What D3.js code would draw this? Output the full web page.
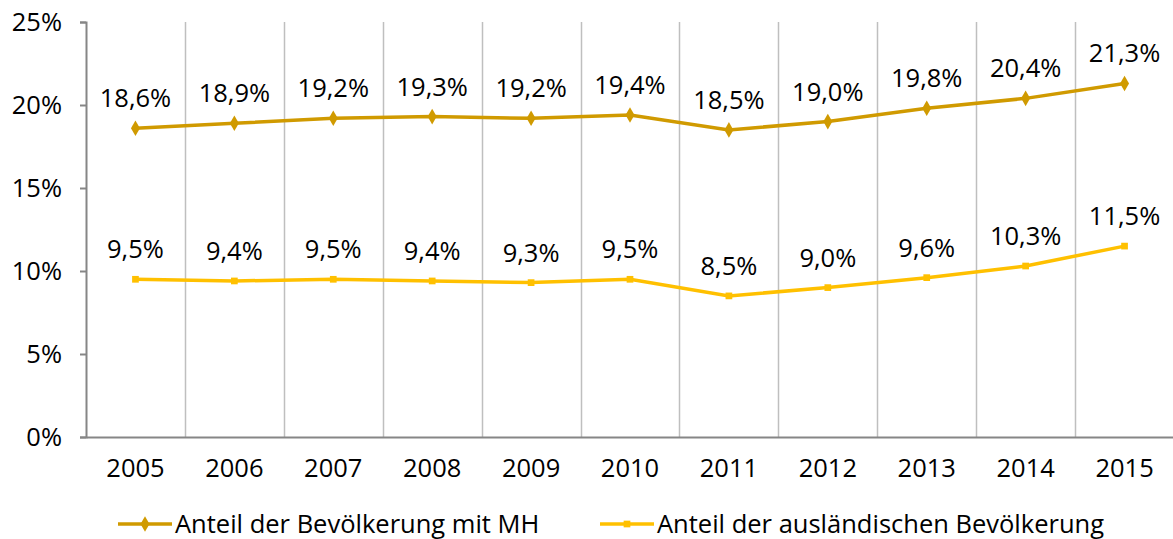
<!DOCTYPE html>
<html><head><meta charset="utf-8">
<script src="https://cdn.jsdelivr.net/npm/d3@7"></script>
<style>body{margin:0;background:#fff}svg{display:block}text{font-family:"Open Sans",sans-serif;fill:#000}</style>
</head><body>
<svg id="c" width="1173" height="539"></svg>
<script>
const years = ["2005","2006","2007","2008","2009","2010","2011","2012","2013","2014","2015"];
const mhValues = [18.6,18.9,19.2,19.3,19.2,19.4,18.5,19.0,19.8,20.4,21.3];
const auslValues = [9.5,9.4,9.5,9.4,9.3,9.5,8.5,9.0,9.6,10.3,11.5];
const yTicks = [0,5,10,15,20,25];
const seriesNames = ["Anteil der Bevölkerung mit MH","Anteil der ausländischen Bevölkerung"];

const svg = d3.select("#c");
const L = 86, R = 1174, T = 22, B = 437;
const FS = "25.5px";
const x = d3.scaleBand().domain(years).range([L, R]);
const y = d3.scaleLinear().domain([0,25]).range([B, T]);
const fmt = v => d3.format(".1f")(v).replace(".", ",") + "%";

// gridlines at category boundaries
const bounds = years.map(d => x(d)).slice(1).concat([R - 0.5]);
svg.append("g").selectAll("line").data(bounds).join("line")
  .attr("x1", d => Math.round(d) + 0.5).attr("x2", d => Math.round(d) + 0.5)
  .attr("y1", T).attr("y2", B).attr("stroke", "#bfbfbf").attr("stroke-width", 1.5);

// y axis
const ya = svg.append("g").attr("transform", `translate(${L},0)`)
  .call(d3.axisLeft(y).tickValues(yTicks).tickFormat(d => d + "%").tickSize(6).tickPadding(18));
ya.select(".domain").attr("stroke", "#868686").attr("stroke-width", 2);
ya.selectAll(".tick line").attr("stroke", "#868686").attr("stroke-width", 2);
ya.selectAll("text").style("font-size", FS).attr("fill", "#000");

// x axis
const xa = svg.append("g").attr("transform", `translate(0,${B})`)
  .call(d3.axisBottom(x).tickSize(0).tickPadding(22));
xa.select(".domain").attr("stroke", "#868686").attr("stroke-width", 2);
xa.selectAll("text").style("font-size", FS).attr("fill", "#000");

const cx = d => x(d) + x.bandwidth() / 2;
const series = [
  {name: seriesNames[0], values: mhValues, color: "#d09a00", marker: "diamond"},
  {name: seriesNames[1], values: auslValues, color: "#ffc000", marker: "square"}
];
const line = d3.line().x((d, i) => cx(years[i])).y(d => y(d));
series.forEach(s => {
  const g = svg.append("g");
  g.append("path").attr("d", line(s.values)).attr("fill", "none")
    .attr("stroke", s.color).attr("stroke-width", 3.5);
  const sym = s.marker === "diamond" ? d3.symbol(d3.symbolDiamond, 70) : d3.symbol(d3.symbolSquare, 45);
  g.selectAll("path.m").data(s.values).join("path").attr("class", "m")
    .attr("d", sym).attr("fill", s.color)
    .attr("transform", (d, i) => `translate(${cx(years[i])},${y(d)})`);
  g.selectAll("text").data(s.values).join("text")
    .attr("x", (d, i) => cx(years[i])).attr("y", d => y(d) - 21)
    .attr("text-anchor", "middle").style("font-size", FS).text(d => fmt(d));
});

// legend
const legX = [118, 600];
series.forEach((s, i) => {
  const g = svg.append("g").attr("transform", `translate(${legX[i]},524)`);
  g.append("line").attr("x1", 0).attr("x2", 54).attr("stroke", s.color).attr("stroke-width", 3.5);
  const sym = s.marker === "diamond" ? d3.symbol(d3.symbolDiamond, 70) : d3.symbol(d3.symbolSquare, 45);
  g.append("path").attr("d", sym).attr("fill", s.color).attr("transform", "translate(27,0)");
  g.append("text").attr("x", 57).attr("y", 9).style("font-size", FS).text(s.name);
});
</script>
</body></html>
